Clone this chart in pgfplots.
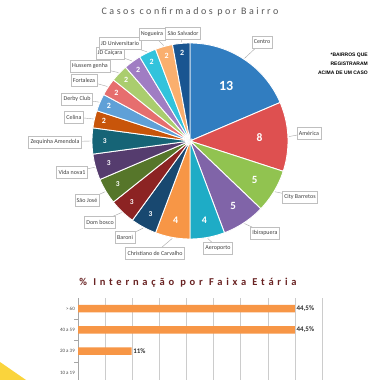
\documentclass[border=0pt]{standalone}
\usepackage{fontspec}
\setmainfont{Carlito}
\newfontfamily\notefont{Liberation Sans}
\usepackage{pgfplots}
\pgfplotsset{compat=1.18}
\usepackage{pgfplotstable}

\definecolor{cCentro}{RGB}{49,125,192}
\definecolor{cAmerica}{RGB}{222,80,80}
\definecolor{cCity}{RGB}{145,195,80}
\definecolor{cIbi}{RGB}{128,100,168}
\definecolor{cAero}{RGB}{30,172,198}
\definecolor{cChris}{RGB}{247,150,70}
\definecolor{cBaroni}{RGB}{24,72,112}
\definecolor{cDom}{RGB}{140,35,35}
\definecolor{cJose}{RGB}{86,118,42}
\definecolor{cVida}{RGB}{85,60,110}
\definecolor{cZeq}{RGB}{22,100,118}
\definecolor{cCelina}{RGB}{200,85,10}
\definecolor{cDerby}{RGB}{95,160,215}
\definecolor{cFort}{RGB}{230,110,110}
\definecolor{cHuss}{RGB}{170,205,110}
\definecolor{cCaic}{RGB}{160,125,195}
\definecolor{cUniv}{RGB}{50,195,220}
\definecolor{cNog}{RGB}{250,175,110}
\definecolor{cSalv}{RGB}{25,85,145}
\definecolor{barorange}{RGB}{247,150,70}
\definecolor{titlered}{RGB}{105,35,35}
\definecolor{cornery}{RGB}{250,212,60}

\tikzset{
 num/.style={text=white, inner sep=0pt},
 namebox/.style={draw=black!25, fill=white, text=black!75, font=\fontsize{6}{7}\selectfont, inner sep=2pt, minimum height=12.5pt},
}

% #1 start count, #2 value, #3 colour, #4 label radius, #5 label size, #6 name, #7 name box position
\newcommand\slice[7]{%
 \pgfmathsetmacro\sa{90-(#1+#2)*(360/70)}%
 \pgfmathsetmacro\sb{90-#1*(360/70)}%
 \pgfmathsetmacro\sm{90-(#1+#2/2)*(360/70)}%
 \pgfmathsetmacro\nx{#4*cos(\sm)}%
 \pgfmathsetmacro\ny{#4*sin(\sm)}%
 \pgfmathsetmacro\ex{1.01*cos(\sm)}%
 \pgfmathsetmacro\ey{1.01*sin(\sm)}%
 \edef\doslice{%
  \noexpand\addplot[draw=white, line width=0.9pt, fill=#3, domain=\sa:\sb, samples=40] ({cos(x)},{sin(x)}) -- (axis cs:0,0) -- cycle;
  \noexpand\node[num, font=\noexpand\fontsize{#5}{#5}\noexpand\selectfont\noexpand\bfseries] at (axis cs:\nx,\ny) {#2};
  \noexpand\draw[black!35, line width=0.4pt] (axis cs:#7) -- (axis cs:\ex,\ey);
  \noexpand\node[namebox] at (axis cs:#7) {#6};
 }%
 \doslice
}

\pgfplotstableread{
y val lab
4 44.5 44,5\%
3 44.5 44,5\%
2 11 11\%
}\bartable

\begin{document}
\begin{tikzpicture}
\useasboundingbox (0pt,0pt) rectangle (373pt,380pt);
\clip (0pt,0pt) rectangle (373pt,380pt);
\fill[white] (0pt,0pt) rectangle (373pt,380pt);

\begin{axis}[at={(190pt,239pt)}, anchor=center, scale only axis,
  width=294pt, height=245pt, xmin=-1.5, xmax=1.5, ymin=-1.25, ymax=1.25,
  hide axis, clip=false]
\slice{0}{13}{cCentro}{0.67}{14}{Centro}{0.735,1.01}
\slice{13}{8}{cAmerica}{0.71}{11.5}{América}{1.214,0.082}
\slice{21}{5}{cCity}{0.77}{11}{City Barretos}{1.122,-0.571}
\slice{26}{5}{cIbi}{0.80}{11}{Ibirapuera}{0.765,-0.939}
\slice{31}{4}{cAero}{0.82}{10}{Aeroporto}{0.286,-1.092}
\slice{35}{4}{cChris}{0.82}{10}{Christiano de Carvalho}{-0.357,-1.143}
\slice{39}{3}{cBaroni}{0.85}{7.5}{Baroni}{-0.663,-0.98}
\slice{42}{3}{cDom}{0.86}{7.5}{Dom bosco}{-0.918,-0.827}
\slice{45}{3}{cJose}{0.86}{7.5}{São José}{-1.051,-0.602}
\slice{48}{3}{cVida}{0.86}{7.5}{Vida nova1}{-1.204,-0.316}
\slice{51}{3}{cZeq}{0.87}{7.5}{Zequinha Amendola}{-1.378,-0.01}
\slice{54}{2}{cCelina}{0.9}{8}{Celina}{-1.184,0.245}
\slice{56}{2}{cDerby}{0.9}{8}{Derby Club}{-1.153,0.429}
\slice{58}{2}{cFort}{0.9}{8}{Fortaleza}{-1.082,0.622}
\slice{60}{2}{cHuss}{0.9}{8}{Hussem genha}{-1.02,0.765}
\slice{62}{2}{cCaic}{0.9}{8}{JD Caiçara}{-0.816,0.898}
\slice{64}{2}{cUniv}{0.9}{8}{JD Universitario}{-0.714,1.0}
\slice{66}{2}{cNog}{0.9}{8}{Nogueira}{-0.388,1.092}
\slice{68}{2}{cSalv}{0.9}{8}{São Salvador}{-0.071,1.102}
\end{axis}

\begin{axis}[at={(78pt,82pt)}, anchor=north west, scale only axis,
  width=244pt, height=106.5pt,
  xmin=0, xmax=50.0625, ymin=-0.5, ymax=4.5,
  xbar, bar width=7.5pt,
  axis y line*=left, axis x line*=bottom,
  axis line style={black!35},
  xtick={0,5.5625,...,50.1}, xticklabels={},
  xmajorgrids, grid style={black!20},
  ytick={1,2,3,4}, yticklabels={10 a 19,20 a 39,40 a 59,> 60},
  minor ytick={0.5,1.5,2.5,3.5},
  major tick length=0pt, minor tick length=4pt, tick align=outside,
  tick style={black!35},
  yticklabel style={font=\fontsize{5}{6}\selectfont, text=black!70, xshift=-2pt, inner sep=1pt},
  clip=false]
\addplot[fill=barorange, draw=none, point meta=explicit symbolic,
  nodes near coords,
  nodes near coords style={font=\fontsize{7}{8}\selectfont\bfseries, text=black!80, anchor=west, inner sep=1.5pt}]
  table[x=val, y=y, meta=lab] {\bartable};
\end{axis}

\fill[cornery] (0pt,18pt) -- (26pt,0pt) -- (0pt,0pt) -- cycle;

\node[font=\fontsize{10}{12}\selectfont\addfontfeature{LetterSpace=25}, text=black!65] at (190pt,368pt) {Casos confirmados por Bairro};
\node[font=\fontsize{10.5}{12}\selectfont\bfseries\addfontfeature{LetterSpace=36}, text=titlered] at (188pt,97pt) {\% Internação por Faixa Etária};
\node[anchor=north east, align=right, inner sep=0pt, font=\notefont\bfseries\fontsize{5}{9}\selectfont] at (368pt,327pt) {*BAIRROS QUE\\REGISTRARAM\\ACIMA DE UM CASO};
\end{tikzpicture}
\end{document}
